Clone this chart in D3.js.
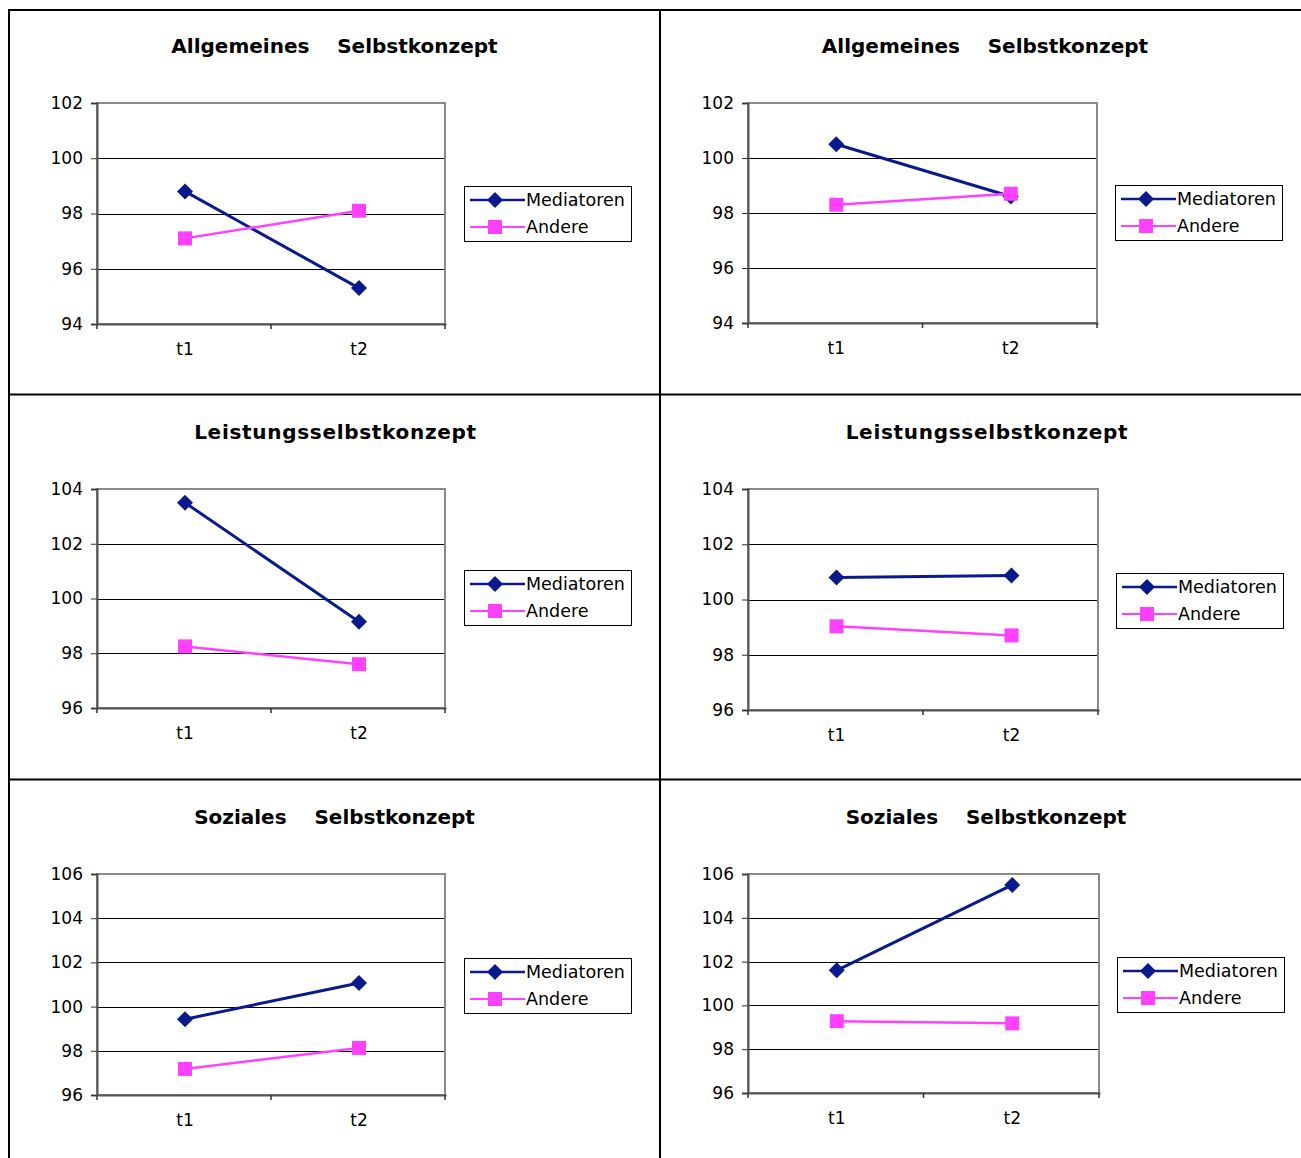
<!DOCTYPE html>
<html><head><meta charset="utf-8">
<script src="https://cdn.jsdelivr.net/npm/d3@7/dist/d3.min.js"></script>
<style>body{margin:0;background:#fff}svg{display:block}</style>
</head><body>
<script>
// ---- data ----
const categories = ["t1", "t2"];
const seriesNames = ["Mediatoren", "Andere"];
const titles = [
  "Allgemeines    Selbstkonzept", "Allgemeines    Selbstkonzept",
  "Leistungsselbstkonzept", "Leistungsselbstkonzept",
  "Soziales    Selbstkonzept", "Soziales    Selbstkonzept"
];
const mediatoren = [[98.8, 95.3], [100.5, 98.6], [103.5, 99.15], [100.8, 100.87], [99.43, 101.07], [101.6, 105.5]];
const andere     = [[97.1, 98.1], [98.3, 98.7], [98.25, 97.6], [99.03, 98.7], [97.18, 98.13], [99.28, 99.18]];
const yDomains = [[94, 102], [94, 102], [96, 104], [96, 104], [96, 106], [96, 106]];
const yTicks = [[94, 96, 98, 100, 102], [94, 96, 98, 100, 102], [96, 98, 100, 102, 104], [96, 98, 100, 102, 104], [96, 98, 100, 102, 104, 106], [96, 98, 100, 102, 104, 106]];

// ---- layout ----
const W = 1301, H = 1158;
const layout = [
  {x0: 97, x1: 445, y0: 103, y1: 324, lx: 464, ly: 186, tx: 334.5, ty: 53, ls: 0},
  {x0: 748, x1: 1097, y0: 103, y1: 323, lx: 1115, ly: 185, tx: 985, ty: 53, ls: 0},
  {x0: 97, x1: 445, y0: 489, y1: 708, lx: 464, ly: 570, tx: 335.5, ty: 439, ls: 0.7},
  {x0: 748, x1: 1098, y0: 489, y1: 710, lx: 1116, ly: 573, tx: 987, ty: 439, ls: 0.7},
  {x0: 97, x1: 445, y0: 874, y1: 1095, lx: 464, ly: 958, tx: 334.5, ty: 824, ls: 0},
  {x0: 748, x1: 1099, y0: 874, y1: 1093, lx: 1117, ly: 957, tx: 986, ty: 824, ls: 0}
];
const colors = ["#0a1a8c", "#ff40ff"];
const FONT = "'DejaVu Sans', Verdana, sans-serif";

const svg = d3.select("body").append("svg").attr("width", W).attr("height", H)
  .style("font-family", FONT);

// table borders
const bg = svg.append("g").attr("stroke", "#000").attr("stroke-width", 2);
bg.append("line").attr("x1", 8).attr("x2", W).attr("y1", 10).attr("y2", 10);
bg.append("line").attr("x1", 9).attr("x2", 9).attr("y1", 10).attr("y2", H);
bg.append("line").attr("x1", 660).attr("x2", 660).attr("y1", 10).attr("y2", H);
bg.append("line").attr("x1", 8).attr("x2", W).attr("y1", 394.5).attr("y2", 394.5);
bg.append("line").attr("x1", 8).attr("x2", W).attr("y1", 779.5).attr("y2", 779.5);

function diamond(g, x, y, c) {
  const s = 8;
  g.append("path").attr("d", `M${x},${y - s}L${x + s},${y}L${x},${y + s}L${x - s},${y}Z`).attr("fill", c);
}
function square(g, x, y, c) {
  const s = 7;
  g.append("rect").attr("x", x - s).attr("y", y - s).attr("width", 2 * s).attr("height", 2 * s).attr("fill", c);
}
const markerFns = [diamond, square];

layout.forEach((L, i) => {
  const g = svg.append("g");
  const x = d3.scaleBand().domain(categories).range([L.x0, L.x1]).paddingInner(0).paddingOuter(0);
  const y = d3.scaleLinear().domain(yDomains[i]).range([L.y1, L.y0]);

  // title
  g.append("text").attr("x", L.tx).attr("y", L.ty).attr("text-anchor", "middle")
    .style("white-space", "pre").attr("font-weight", "bold").attr("font-size", 20)
    .attr("letter-spacing", L.ls).text(titles[i]);

  // gridlines
  g.selectAll(".grid").data(yTicks[i].filter(t => t !== yDomains[i][0] && t !== yDomains[i][1])).enter()
    .append("line").attr("x1", L.x0).attr("x2", L.x1)
    .attr("y1", d => Math.round(y(d)) + 0.5).attr("y2", d => Math.round(y(d)) + 0.5)
    .attr("stroke", "#000").attr("stroke-width", 1);

  // frame
  g.append("rect").attr("x", L.x0).attr("y", L.y0).attr("width", L.x1 - L.x0).attr("height", L.y1 - L.y0)
    .attr("fill", "none").attr("stroke", "#8a8a8a").attr("stroke-width", 2);

  // y axis
  const ya = d3.axisLeft(y).tickValues(yTicks[i]).tickSize(6).tickPadding(8).tickFormat(d3.format("d"));
  const yg = g.append("g").attr("transform", `translate(${L.x0},0)`).call(ya);
  yg.select(".domain").attr("stroke", "#555").attr("stroke-width", 2);
  yg.selectAll(".tick line").attr("stroke", "#333");
  yg.selectAll("text").attr("font-size", 17).attr("font-family", FONT).attr("fill", "#000");

  // x axis
  const xa = d3.axisBottom(x).tickSize(0).tickPadding(19);
  const xg = g.append("g").attr("transform", `translate(1,${L.y1})`).call(xa);
  xg.select(".domain").attr("stroke", "#555").attr("stroke-width", 2);
  xg.selectAll("text").attr("font-size", 17).attr("font-family", FONT).attr("fill", "#000");
  // boundary ticks
  const bounds = [L.x0, L.x0 + x.bandwidth(), L.x1];
  g.selectAll(".xb").data(bounds).enter().append("line")
    .attr("x1", d => d).attr("x2", d => d).attr("y1", L.y1).attr("y2", L.y1 + 5)
    .attr("stroke", "#333").attr("stroke-width", 1.5);

  // series
  const series = [mediatoren[i], andere[i]];
  const cx = k => x(categories[k]) + x.bandwidth() / 2 + 1;
  const line = d3.line().x((d, k) => cx(k)).y(d => y(d));
  series.forEach((vals, s) => {
    g.append("path").datum(vals).attr("d", line).attr("fill", "none")
      .attr("stroke", colors[s]).attr("stroke-width", s === 0 ? 3 : 2.5);
  });
  series.forEach((vals, s) => {
    vals.forEach((v, k) => markerFns[s](g, cx(k), y(v), colors[s]));
  });

  // legend
  const lg = g.append("g").attr("transform", `translate(${L.lx},${L.ly})`);
  lg.append("rect").attr("x", 0.5).attr("y", 0.5).attr("width", 167).attr("height", 55)
    .attr("fill", "#fff").attr("stroke", "#000").attr("stroke-width", 1);
  seriesNames.forEach((name, s) => {
    const yy = 14 + s * 27;
    lg.append("line").attr("x1", 6).attr("x2", 61).attr("y1", yy).attr("y2", yy)
      .attr("stroke", colors[s]).attr("stroke-width", s === 0 ? 2.5 : 2);
    markerFns[s](lg, 31, yy, colors[s]);
    lg.append("text").attr("x", 62).attr("y", yy + 6).attr("font-size", 17.5).text(name);
  });
});
</script>
</body></html>
